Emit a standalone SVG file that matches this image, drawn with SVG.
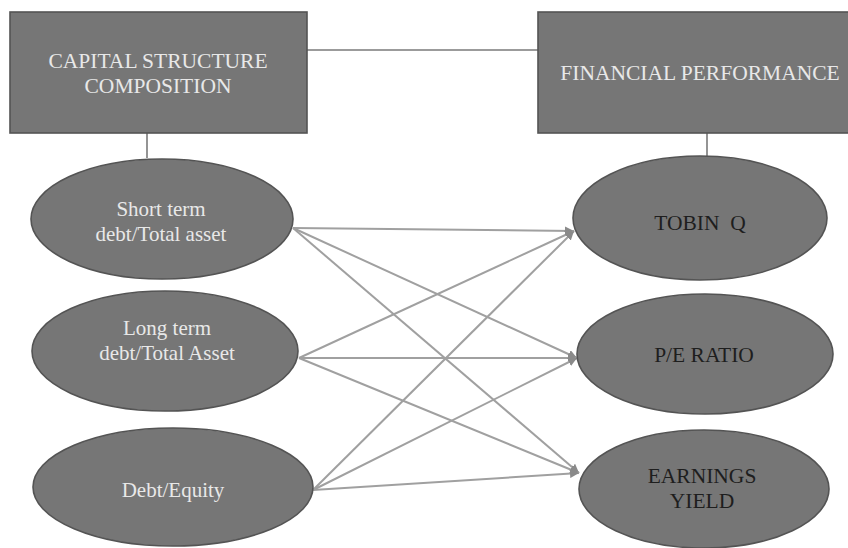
<svg xmlns="http://www.w3.org/2000/svg" width="848" height="548" viewBox="0 0 848 548">
  <style>
    .shape { fill: #767676; stroke: #545454; stroke-width: 1.6; }
    .link { stroke: #a0a0a0; stroke-width: 2; fill: none; }
    .conn { stroke: #7a7a7a; stroke-width: 1.6; fill: none; }
    .light { font-family: "Liberation Serif", "Times New Roman", serif; font-size: 21px; fill: #e8e8e8; text-anchor: middle; }
    .dark { font-family: "Liberation Serif", "Times New Roman", serif; font-size: 21.5px; fill: #1e1e1e; text-anchor: middle; }
    .head { font-family: "Liberation Serif", "Times New Roman", serif; font-size: 21.5px; fill: #e8e8e8; text-anchor: middle; }
  </style>
  <defs>
    <marker id="arrow" viewBox="0 0 10 10" refX="10" refY="5" markerWidth="9" markerHeight="9" markerUnits="userSpaceOnUse" orient="auto">
      <path d="M0,0 L10,5 L0,10 z" fill="#8a8a8a"/>
    </marker>
  </defs>
  <rect width="848" height="548" fill="#ffffff"/>

  <g id="connectors">
    <line class="conn" x1="307" y1="50" x2="538" y2="50"/>
    <line class="conn" x1="147" y1="133" x2="147" y2="158"/>
    <line class="conn" x1="707" y1="133" x2="707" y2="156"/>
    <line class="link" x1="293" y1="228" x2="574" y2="231" marker-end="url(#arrow)"/>
    <line class="link" x1="293" y1="228" x2="577" y2="358" marker-end="url(#arrow)"/>
    <line class="link" x1="293" y1="228" x2="579" y2="473" marker-end="url(#arrow)"/>
    <line class="link" x1="299" y1="358" x2="574" y2="231" marker-end="url(#arrow)"/>
    <line class="link" x1="299" y1="358" x2="577" y2="358" marker-end="url(#arrow)"/>
    <line class="link" x1="299" y1="358" x2="579" y2="473" marker-end="url(#arrow)"/>
    <line class="link" x1="313" y1="490" x2="574" y2="231" marker-end="url(#arrow)"/>
    <line class="link" x1="313" y1="490" x2="577" y2="358" marker-end="url(#arrow)"/>
    <line class="link" x1="313" y1="490" x2="579" y2="473" marker-end="url(#arrow)"/>
  </g>

  <g id="capital-structure">
    <rect class="shape" x="10" y="12" width="297" height="121"/>
    <text class="head" x="158" y="68">CAPITAL STRUCTURE</text>
    <text class="head" x="158" y="93">COMPOSITION</text>
  </g>

  <g id="financial-performance">
    <rect class="shape" x="538" y="12" width="324" height="121"/>
    <text class="head" x="700" y="80">FINANCIAL PERFORMANCE</text>
  </g>

  <g id="short-term">
    <ellipse class="shape" cx="162" cy="219" rx="131" ry="60"/>
    <text class="light" x="161" y="216">Short term</text>
    <text class="light" x="161" y="241">debt/Total asset</text>
  </g>

  <g id="long-term">
    <ellipse class="shape" cx="165" cy="351" rx="133" ry="60"/>
    <text class="light" x="167" y="335">Long term</text>
    <text class="light" x="167" y="360">debt/Total Asset</text>
  </g>

  <g id="debt-equity">
    <ellipse class="shape" cx="173" cy="487" rx="140" ry="59"/>
    <text class="light" x="173" y="497">Debt/Equity</text>
  </g>

  <g id="tobin-q">
    <ellipse class="shape" cx="700" cy="218" rx="127" ry="62"/>
    <text class="dark" x="700" y="230" xml:space="preserve">TOBIN  Q</text>
  </g>

  <g id="pe-ratio">
    <ellipse class="shape" cx="705" cy="354" rx="128" ry="60"/>
    <text class="dark" x="704" y="362">P/E RATIO</text>
  </g>

  <g id="earnings-yield">
    <ellipse class="shape" cx="704" cy="489" rx="125" ry="59"/>
    <text class="dark" x="702" y="483">EARNINGS</text>
    <text class="dark" x="702" y="508">YIELD</text>
  </g>
</svg>
